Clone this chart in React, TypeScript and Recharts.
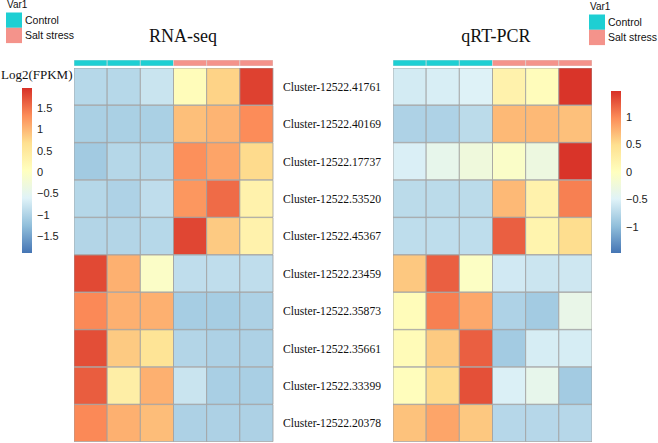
import React from 'react';
import { BarChart, Bar, Cell, XAxis, YAxis } from 'recharts';

const clusters = [
  'Cluster-12522.41761',
  'Cluster-12522.40169',
  'Cluster-12522.17737',
  'Cluster-12522.53520',
  'Cluster-12522.45367',
  'Cluster-12522.23459',
  'Cluster-12522.35873',
  'Cluster-12522.35661',
  'Cluster-12522.33399',
  'Cluster-12522.20378',
];

const samples = ['c0', 'c1', 'c2', 'c3', 'c4', 'c5'];
const sampleGroups = ['Control', 'Control', 'Control', 'Salt stress', 'Salt stress', 'Salt stress'];

// row-scaled log2(FPKM), RNA-seq
const rnaSeq = [
  [-0.95, -0.95, -0.8, 0.1, 0.78, 1.85],
  [-1.05, -1.05, -1.05, 0.94, 1.02, 1.33],
  [-1.12, -0.96, -0.96, 1.3, 1.15, 0.72],
  [-0.96, -1.02, -0.88, 1.25, 1.56, 0.3],
  [-0.98, -0.98, -0.95, 1.82, 0.85, 0.3],
  [1.8, 1.05, -0.05, -0.88, -0.88, -0.88],
  [1.35, 1.05, 1.05, -1.08, -1.08, -1.03],
  [1.76, 0.85, 0.6, -0.98, -1.03, -1.03],
  [1.66, 0.38, 1.05, -0.8, -1.06, -1.06],
  [1.35, 1.05, 0.95, -1.03, -1.03, -1.03],
];

// row-scaled relative expression, qRT-PCR
const qrtPcr = [
  [-0.57, -0.54, -0.5, 0.2, 0.04, 1.45],
  [-0.8, -0.8, -0.72, 0.72, 0.72, 0.68],
  [-0.53, -0.38, -0.25, -0.08, -0.28, 1.45],
  [-0.72, -0.72, -0.72, 0.72, 0.2, 1.05],
  [-0.7, -0.7, -0.7, 1.22, 0.18, 0.5],
  [0.63, 1.22, -0.04, -0.58, -0.62, -0.6],
  [0.05, 1.05, 0.82, -0.8, -0.87, -0.35],
  [0.07, 0.62, 1.22, -0.87, -0.55, -0.55],
  [0.03, 0.52, 1.3, -0.52, -0.38, -0.87],
  [0.67, 0.84, 0.63, -0.75, -0.75, -0.75],
];

const rnaRange = [-1.9, 1.97];
const pcrRange = [-1.47, 1.47];
const rnaTicks = [1.5, 1, 0.5, 0, -0.5, -1, -1.5];
const pcrTicks = [1, 0.5, 0, -0.5, -1];

const palette = ['#4575B4', '#91BFDB', '#E0F3F8', '#FFFFBF', '#FEE090', '#FC8D59', '#D73027'];
const groupColors: Record<string, string> = { Control: '#1ECFD3', 'Salt stress': '#F4938B' };

const SERIF = '"Liberation Serif", "Times New Roman", serif';
const SANS = '"Liberation Sans", Arial, sans-serif';

function hexToRgb(h: string) {
  const n = parseInt(h.slice(1), 16);
  return [(n >> 16) & 255, (n >> 8) & 255, n & 255];
}

function heatColor(v: number, lo: number, hi: number): string {
  const t = Math.max(0, Math.min(1, (v - lo) / (hi - lo))) * (palette.length - 1);
  const i = Math.min(palette.length - 2, Math.floor(t));
  const f = t - i;
  const a = hexToRgb(palette[i]);
  const b = hexToRgb(palette[i + 1]);
  const c = a.map((x, k) => Math.round(x + (b[k] - x) * f));
  return `rgb(${c[0]},${c[1]},${c[2]})`;
}

const unitRows = clusters.map((name) => {
  const row: Record<string, string | number> = { name };
  samples.forEach((s) => (row[s] = 1));
  return row;
});

const annotRow = [{ name: 'Var1', c0: 1, c1: 1, c2: 1, c3: 1, c4: 1, c5: 1 }];

interface HeatmapProps {
  values: number[][];
  range: number[];
  left: number;
  showLabels?: boolean;
}

const Heatmap: React.FC<HeatmapProps> = ({ values, range, left, showLabels }) => {
  const labelWidth = showLabels ? 115 : 0;
  return (
    <>
      <div style={{ position: 'absolute', left, top: 60 }}>
        <BarChart
          width={199}
          height={6}
          layout="vertical"
          data={annotRow}
          margin={{ top: 0, right: 0, bottom: 0, left: 0 }}
          barCategoryGap={0}
        >
          <XAxis type="number" domain={[0, 6]} hide />
          <YAxis type="category" dataKey="name" hide />
          {samples.map((s, j) => (
            <Bar key={s} dataKey={s} stackId="a" isAnimationActive={false} stroke="#d8d8d8" strokeWidth={0.6}>
              <Cell fill={groupColors[sampleGroups[j]]} />
            </Bar>
          ))}
        </BarChart>
      </div>
      <div style={{ position: 'absolute', left, top: 68 }}>
        <BarChart
          width={199 + labelWidth}
          height={374}
          layout="vertical"
          data={unitRows}
          margin={{ top: 0, right: 0, bottom: 0, left: 0 }}
          barCategoryGap={0}
        >
          <XAxis type="number" domain={[0, 6]} hide />
          <YAxis
            type="category"
            dataKey="name"
            orientation="right"
            hide={!showLabels}
            width={labelWidth}
            interval={0}
            axisLine={false}
            tickLine={false}
            tickSize={0}
            tickMargin={10}
            tick={{ fontSize: 11.6, fill: '#111', fontFamily: SERIF }}
          />
          {samples.map((s, j) => (
            <Bar key={s} dataKey={s} stackId="a" isAnimationActive={false} stroke="#a0a0a0" strokeWidth={0.8}>
              {values.map((row, i) => (
                <Cell key={i} fill={heatColor(row[j], range[0], range[1])} />
              ))}
            </Bar>
          ))}
        </BarChart>
      </div>
    </>
  );
};

interface ColorBarProps {
  id: string;
  range: number[];
  ticks: number[];
  left: number;
  top: number;
  height: number;
}

const ColorBar: React.FC<ColorBarProps> = ({ id, range, ticks, left, top, height }) => (
  <div style={{ position: 'absolute', left, top }}>
    <BarChart
      width={45}
      height={height}
      data={[{ name: 'bar', span: range }]}
      margin={{ top: 0, right: 0, bottom: 0, left: 0 }}
      barCategoryGap={0}
    >
      <defs>
        <linearGradient id={id} x1="0" y1="0" x2="0" y2="1">
          {[...palette].reverse().map((c, i) => (
            <stop key={c} offset={`${(i / (palette.length - 1)) * 100}%`} stopColor={c} />
          ))}
        </linearGradient>
      </defs>
      <XAxis type="category" dataKey="name" hide />
      <YAxis
        type="number"
        domain={range}
        ticks={ticks}
        orientation="right"
        width={35}
        axisLine={false}
        tickLine={false}
        tickSize={0}
        tickMargin={5}
        tickFormatter={(v: number) => String(v).replace('-', '\u2212')}
        tick={{ fontSize: 11, fill: '#222', fontFamily: SANS, textAnchor: 'start' }}
      />
      <Bar dataKey="span" fill={`url(#${id})`} isAnimationActive={false} />
    </BarChart>
  </div>
);

const Legend: React.FC<{ x: number; y: number }> = ({ x, y }) => (
  <g fontFamily={SANS} fill="#111">
    <text x={x + 1} y={y} fontSize={10}>Var1</text>
    {['Control', 'Salt stress'].map((g, i) => (
      <g key={g}>
        <rect x={x} y={y + 5 + i * 15.3} width={16} height={15.3} fill={groupColors[g]} />
        <text x={x + 19} y={y + 16 + i * 15.5} fontSize={10.5}>{g}</text>
      </g>
    ))}
  </g>
);

export default function App() {
  return (
    <div style={{ position: 'absolute', left: 0, top: 0, width: 658, height: 443, background: '#fff', overflow: 'hidden' }}>
      <svg width={658} height={443} style={{ position: 'absolute', left: 0, top: 0 }}>
        <Legend x={6} y={7.5} />
        <Legend x={589} y={9.5} />
        <text x={183} y={42} fontSize={18} fontFamily={SERIF} textAnchor="middle" fill="#111">RNA-seq</text>
        <text x={496} y={42} fontSize={18} fontFamily={SERIF} textAnchor="middle" fill="#111">qRT-PCR</text>
        <text x={1} y={79} fontSize={13} fontFamily={SERIF} fill="#111">Log2(FPKM)</text>
      </svg>
      <Heatmap values={rnaSeq} range={rnaRange} left={74} showLabels />
      <Heatmap values={qrtPcr} range={pcrRange} left={393} />
      <ColorBar id="gradL" range={rnaRange} ticks={rnaTicks} left={22} top={88} height={165} />
      <ColorBar id="gradR" range={pcrRange} ticks={pcrTicks} left={611} top={91} height={162} />
    </div>
  );
}
